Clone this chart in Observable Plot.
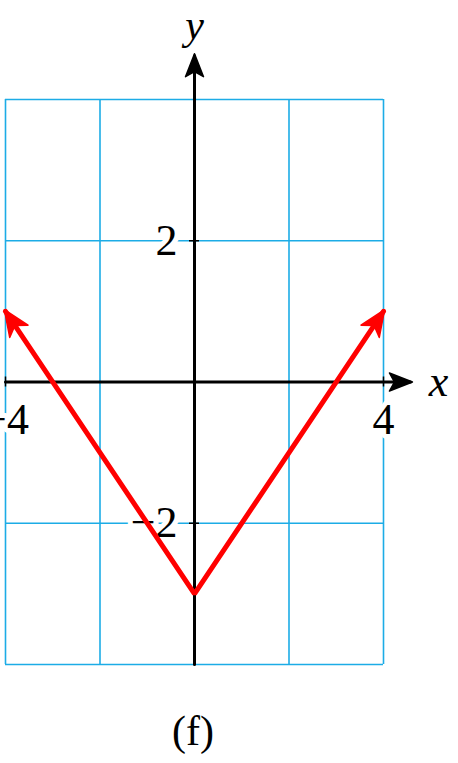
<!DOCTYPE html>
<html><head><meta charset="utf-8">
<script src="https://cdn.jsdelivr.net/npm/d3@7"></script>
<script src="https://cdn.jsdelivr.net/npm/@observablehq/plot@0.6"></script>
<style>
body{margin:0;background:#fff;}
#cap{width:458px;text-align:center;font-family:"Liberation Serif",serif;font-size:42px;line-height:63px;height:63px;}
#cap span{position:relative;left:-36px;}
</style>
</head><body>
<div id="chart"></div>
<div id="cap"><span>(f)</span></div>
<script>
const gridTicks = [-4, -2, 0, 2, 4];
const curveX = [-4, 0, 4];
const curveY = [1, -3, 1];
const xTickLabels = [{v: -4, t: "\u22124"}, {v: 4, t: "4"}];
const yTickLabels = [{v: -2, t: "\u22122"}, {v: 2, t: "2"}];
const axisEnd = {x: 4.57, y: 4.62};
const gridColor = "#1cace6";
const font = "Liberation Serif";

const curve = curveX.map((x, i) => ({x, y: curveY[i]}));
const xAxisLine = [{x: -4, y: 0}, {x: axisEnd.x, y: 0}];
const yAxisLine = [{x: 0, y: -4}, {x: 0, y: axisEnd.y}];

function stealth(len, half, notch) {
  return (color) => {
    const ns = "http://www.w3.org/2000/svg";
    const m = document.createElementNS(ns, "marker");
    m.setAttribute("viewBox", `${-len - 2} ${-half - 2} ${len + 6} ${2 * half + 4}`);
    m.setAttribute("markerWidth", len + 6);
    m.setAttribute("markerHeight", 2 * half + 4);
    m.setAttribute("markerUnits", "userSpaceOnUse");
    m.setAttribute("refX", 0);
    m.setAttribute("refY", 0);
    m.setAttribute("orient", "auto-start-reverse");
    const p = document.createElementNS(ns, "path");
    p.setAttribute("d", `M2,0 L${-len},${-half} L${-len + notch},0 L${-len},${half} Z`);
    p.setAttribute("fill", color);
    p.setAttribute("stroke", color);
    p.setAttribute("stroke-width", 1.5);
    p.setAttribute("stroke-linejoin", "round");
    m.appendChild(p);
    return m;
  };
}

const plot = Plot.plot({
  width: 458, height: 700,
  marginLeft: 5, marginRight: 75, marginTop: 99, marginBottom: 36,
  x: {domain: [-4, 4], axis: null},
  y: {domain: [-4, 4], axis: null},
  style: {fontFamily: font, background: "white"},
  marks: [
    Plot.ruleX(gridTicks, {x: d => d, y1: -4, y2: 4, stroke: gridColor, strokeWidth: 1.6}),
    Plot.ruleY(gridTicks, {y: d => d, x1: -4, x2: 4, stroke: gridColor, strokeWidth: 1.6}),
    Plot.text(xTickLabels, {x: "v", y: 0, text: "t", dy: 38, fontSize: 44, fill: "black", stroke: "white", strokeWidth: 10}),
    Plot.text(yTickLabels, {x: 0, y: "v", text: "t", dx: -17, textAnchor: "end", fontSize: 44, fill: "black", stroke: "white", strokeWidth: 10}),
    Plot.line(xAxisLine, {x: "x", y: "y", stroke: "black", strokeWidth: 3, markerEnd: stealth(21, 9, 5)}),
    Plot.line(yAxisLine, {x: "x", y: "y", stroke: "black", strokeWidth: 3, markerEnd: stealth(21, 9, 5)}),
    Plot.ruleX(xTickLabels, {x: "v", y1: 0, y2: 0, insetTop: -5, insetBottom: -5, stroke: "black", strokeWidth: 1.5}),
    Plot.ruleY(yTickLabels, {y: "v", x1: 0, x2: 0, insetLeft: -5, insetRight: -5, stroke: "black", strokeWidth: 1.5}),
    Plot.text([{}], {x: axisEnd.x, y: 0, text: () => "x", dx: 28, fontSize: 44, fontStyle: "italic", fill: "black"}),
    Plot.text([{}], {x: 0, y: axisEnd.y, text: () => "y", dy: -30, fontSize: 42, fontStyle: "italic", fill: "black"}),
    Plot.line(curve, {x: "x", y: "y", stroke: "#ff0000", strokeWidth: 5, strokeLinejoin: "miter", markerStart: stealth(24, 11, 7), markerEnd: stealth(24, 11, 7)})
  ]
});
document.getElementById("chart").appendChild(plot);
</script>
</body></html>
